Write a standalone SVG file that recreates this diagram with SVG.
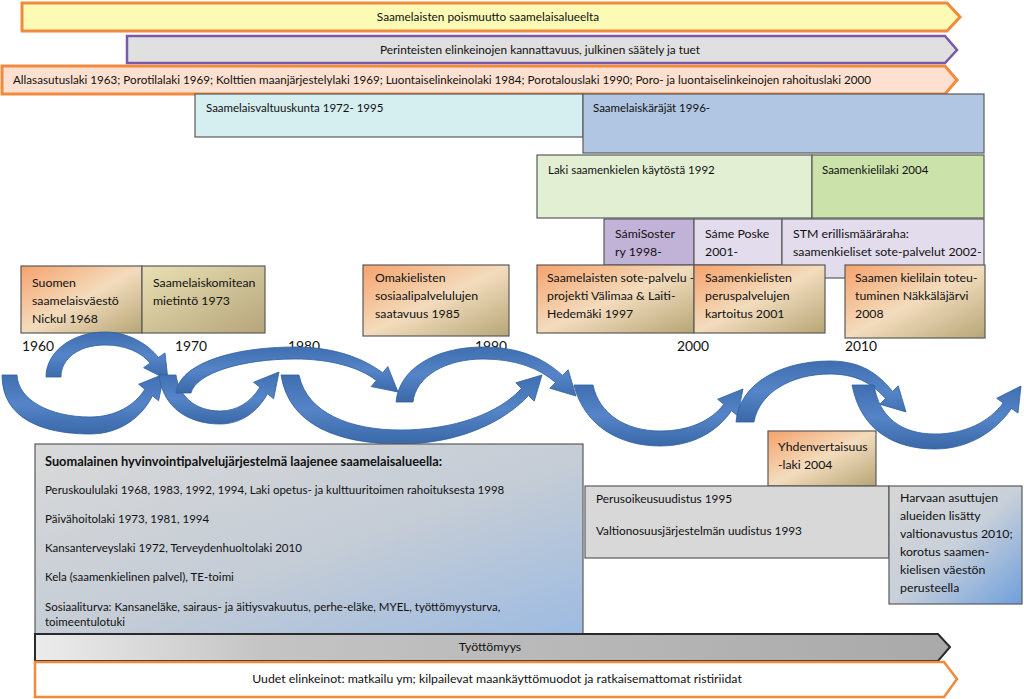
<svg xmlns="http://www.w3.org/2000/svg" width="1024" height="699" viewBox="0 0 1024 699">
<style>
text{font-family:Lato,"Liberation Sans",sans-serif;font-size:12.3px;fill:#111}
.c{text-anchor:middle}
.t{font-size:11.8px}
.s{font-size:11.5px}
.yr{font-size:13.8px}
.b{font-weight:bold;font-size:12.8px}
.box{stroke:#5a5a5a;stroke-width:1.2}
.arr{fill:url(#blue);stroke:#2f5f9e;stroke-width:0.8}
</style>
<defs>
<linearGradient id="org" x1="0" y1="0" x2="1" y2="1">
<stop offset="0" stop-color="#f6a26c"/><stop offset="0.5" stop-color="#f3dcbd"/><stop offset="1" stop-color="#b6a676"/>
</linearGradient>
<linearGradient id="kha" x1="0" y1="0" x2="1" y2="1">
<stop offset="0" stop-color="#eadfb4"/><stop offset="1" stop-color="#b5a67a"/>
</linearGradient>
<linearGradient id="gb" x1="0" y1="0" x2="1" y2="1">
<stop offset="0" stop-color="#d9d9d9"/><stop offset="0.55" stop-color="#c4ccd6"/><stop offset="1" stop-color="#9dbbe2"/>
</linearGradient>
<linearGradient id="gb2" x1="0" y1="0" x2="1" y2="1">
<stop offset="0" stop-color="#d6d6d6"/><stop offset="0.5" stop-color="#c8d0da"/><stop offset="1" stop-color="#6f9fdc"/>
</linearGradient>
<linearGradient id="gry" x1="0" y1="0" x2="1" y2="0">
<stop offset="0" stop-color="#ececec"/><stop offset="0.25" stop-color="#c4c4c4"/><stop offset="1" stop-color="#a9a9a9"/>
</linearGradient>
<linearGradient id="blue" x1="0" y1="0" x2="0" y2="1">
<stop offset="0" stop-color="#3f6fb0"/><stop offset="0.5" stop-color="#5585c8"/><stop offset="1" stop-color="#3a68a8"/>
</linearGradient>
</defs>

<g id="banner-poismuutto">
<path d="M22,3 H947 L960,17 L947,31 H22 Z" fill="#fdfab6" stroke="#f08a3c" stroke-width="3"/>
<text class="c t" x="488" y="21">Saamelaisten poismuutto saamelaisalueelta</text>
</g>
<g id="banner-perinteiset">
<path d="M127,36 H945 L957,50 L945,63 H127 Z" fill="#e0e0e0" stroke="#7a58aa" stroke-width="2.5"/>
<text class="c t" x="540" y="54">Perinteisten elinkeinojen kannattavuus, julkinen säätely ja tuet</text>
</g>
<g id="banner-lait">
<path d="M2,66 H945 L957,80 L945,94 H2 Z" fill="#fde0cf" stroke="#f08a3c" stroke-width="3"/>
<text class="c" x="442" y="84" textLength="858" lengthAdjust="spacingAndGlyphs">Allasasutuslaki 1963; Porotilalaki 1969; Kolttien maanjärjestelylaki 1969; Luontaiselinkeinolaki 1984; Porotalouslaki 1990; Poro- ja luontaiselinkeinojen rahoituslaki 2000</text>
</g>

<g id="valtuuskunta">
<rect class="box" x="195" y="94" width="388" height="43" fill="#d5eef0"/>
<text class="s" x="206" y="112">Saamelaisvaltuuskunta 1972- 1995</text>
</g>
<g id="karajat">
<rect class="box" x="583" y="94" width="401" height="59" fill="#b0c6e2"/>
<text class="s" x="593" y="112">Saamelaiskäräjät 1996-</text>
</g>
<g id="kielilaki1992">
<rect class="box" x="537" y="155" width="275" height="63" fill="#e3efd3"/>
<text class="s" x="548" y="174">Laki saamenkielen käytöstä 1992</text>
</g>
<g id="kielilaki2004">
<rect class="box" x="812" y="155" width="172" height="63" fill="#cbe2aa"/>
<text class="s" x="822" y="174">Saamenkielilaki 2004</text>
</g>
<g id="samisoster">
<rect class="box" x="604" y="219" width="90" height="46" fill="#c1b2d8"/>
<text x="615" y="238">SámiSoster</text>
<text x="615" y="256">ry 1998-</text>
</g>
<g id="sameposke">
<rect class="box" x="694" y="219" width="88" height="46" fill="#e2dcec"/>
<text x="705" y="238">Sáme Poske</text>
<text x="705" y="256">2001-</text>
</g>
<g id="stm">
<rect class="box" x="782" y="219" width="202" height="59" fill="#e2dcec"/>
<text x="793" y="238">STM erillismääräraha:</text>
<text x="793" y="256">saamenkieliset sote-palvelut 2002-</text>
</g>

<g id="nickul">
<rect class="box" x="21" y="266" width="121" height="67" fill="url(#org)"/>
<text x="32" y="287">Suomen</text>
<text x="32" y="305">saamelaisväestö</text>
<text x="32" y="323">Nickul 1968</text>
</g>
<g id="komitea">
<rect class="box" x="142" y="266" width="123" height="67" fill="url(#kha)"/>
<text x="153" y="287">Saamelaiskomitean</text>
<text x="153" y="305">mietintö 1973</text>
</g>
<g id="omakielisten">
<rect class="box" x="363" y="265" width="146" height="71" fill="url(#org)"/>
<text x="375" y="282">Omakielisten</text>
<text x="375" y="300">sosiaalipalvelulujen</text>
<text x="375" y="318">saatavuus 1985</text>
</g>
<g id="sotepalvelu">
<rect class="box" x="537" y="265" width="157" height="68" fill="url(#org)"/>
<text x="547" y="282">Saamelaisten sote-palvelu -</text>
<text x="547" y="300">projekti  Välimaa &amp; Laiti-</text>
<text x="547" y="318">Hedemäki 1997</text>
</g>
<g id="kartoitus">
<rect class="box" x="694" y="265" width="131" height="68" fill="url(#org)"/>
<text x="705" y="282">Saamenkielisten</text>
<text x="705" y="300">peruspalvelujen</text>
<text x="705" y="318">kartoitus 2001</text>
</g>
<g id="nakkalajarvi">
<rect class="box" x="845" y="265" width="140" height="73" fill="url(#org)"/>
<text x="855" y="282">Saamen kielilain toteu-</text>
<text x="855" y="300">tuminen Näkkäläjärvi</text>
<text x="855" y="318">2008</text>
</g>

<g id="years">
<text class="yr" x="22" y="351">1960</text>
<text class="yr" x="175" y="351">1970</text>
<text class="yr" x="288" y="351">1980</text>
<text class="yr" x="475" y="351">1990</text>
<text class="yr" x="677" y="351">2000</text>
<text class="yr" x="845" y="351">2010</text>
</g>

<g id="connectors">
<path class="arr" d="M2,375 C2,420 45,434 90,434 C122,434 143,415 152.5,395.7 L158.6,400.8 L164,374 L138.6,384.2 L144.8,389.3 C135,405 116,417 90,417 C50,417 18,400 17,375 Z"/>
<path class="arr" d="M46,377 C46,352 72,332 105,332 C128,332 148,344 158.4,357.5 L165,352.9 L168,380 L143.6,367.7 L150.2,363.1 C141,352 125,345 105,345 C78,345 61,359 61,377 Z"/>
<path class="arr" d="M159,375 C163,409 190,424 220,424 C242,424 258,411 267.5,393.7 L273.6,398.8 L279,372 L253.6,382.2 L259.8,387.3 C251,402 237,411 220,411 C196,411 179,397 176,375 Z"/>
<path class="arr" d="M176,393 C179,364 232,347 295,347 C334,347 363,358 382.7,372.8 L387.8,366.6 L398,392 L371.2,386.6 L376.3,380.4 C359,367 330,359 295,359 C242,359 196,373 191,393 Z"/>
<path class="arr" d="M281,375 C289,426 340,444 400,444 C460,444 505,421 528.5,395.5 L534.2,401.2 L542,375 L515.8,382.8 L521.5,388.5 C499,413 455,430 400,430 C352,430 307,414 299,375 Z"/>
<path class="arr" d="M396,402 C399,369 435,347 483,347 C520,347 545,359 562.5,375.5 L568.2,369.8 L576,396 L549.8,388.2 L555.5,382.5 C539,368 515,359 483,359 C446,359 416,376 413,402 Z"/>
<path class="arr" d="M574,385 C584,426 620,446 660,446 C696,446 719,429 731.5,410.7 L737.6,415.8 L743,389 L717.6,399.2 L723.8,404.3 C711,421 689,431 660,431 C626,431 599,414 593,385 Z"/>
<path class="arr" d="M736,422 C739,384 780,361 830,361 C860,361 878,373 892.5,391.5 L898.2,385.8 L906,412 L879.8,404.2 L885.5,398.5 C871,382 854,374 830,374 C791,374 759,393 754,422 Z"/>
<path class="arr" d="M852,385 C861,431 895,449 935,449 C969,449 996,431 1011.4,408.5 L1018,413.1 L1021,386 L996.6,398.3 L1003.2,402.9 C989,422 965,434 935,434 C901,434 879,417 874,385 Z"/>
</g>

<g id="hyvinvointi">
<rect class="box" x="35" y="444" width="548" height="190" fill="url(#gb)"/>
<text class="b" x="45" y="466">Suomalainen hyvinvointipalvelujärjestelmä laajenee saamelaisalueella:</text>
<text class="s" x="45" y="494">Peruskoululaki 1968, 1983, 1992, 1994, Laki opetus- ja kulttuuritoimen rahoituksesta 1998</text>
<text class="s" x="45" y="523">Päivähoitolaki 1973, 1981, 1994</text>
<text class="s" x="45" y="552">Kansanterveyslaki 1972, Terveydenhuoltolaki 2010</text>
<text class="s" x="45" y="581">Kela (saamenkielinen palvel), TE-toimi</text>
<text class="s" x="45" y="611">Sosiaaliturva: Kansaneläke, sairaus- ja äitiysvakuutus, perhe-eläke, MYEL, työttömyysturva,</text>
<text class="s" x="45" y="626">toimeentulotuki</text>
</g>
<g id="yhdenvertaisuus">
<rect class="box" x="768" y="431" width="108" height="55" fill="url(#org)"/>
<text x="778" y="451">Yhdenvertaisuus</text>
<text x="778" y="469">-laki 2004</text>
</g>
<g id="perusoikeus">
<rect class="box" x="585" y="486" width="304" height="72" fill="#d8d8d8"/>
<text class="t" x="596" y="503">Perusoikeusuudistus 1995</text>
<text class="t" x="596" y="535">Valtionosuusjärjestelmän uudistus 1993</text>
</g>
<g id="harvaan">
<rect class="box" x="889" y="486" width="133" height="118" fill="url(#gb2)"/>
<text x="900" y="502">Harvaan asuttujen</text>
<text x="900" y="520">alueiden lisätty</text>
<text x="900" y="538">valtionavustus 2010;</text>
<text x="900" y="556">korotus saamen-</text>
<text x="900" y="574">kielisen väestön</text>
<text x="900" y="592">perusteella</text>
</g>
<g id="tyottomyys">
<path d="M35,634 H938 L950,647 L938,661 H35 Z" fill="url(#gry)" stroke="#2a2a2a" stroke-width="2"/>
<text class="c" x="490" y="651">Työttömyys</text>
</g>
<g id="uudet">
<path d="M35,662 H944 L957,679 L944,697 H35 Z" fill="#ffffff" stroke="#f08a3c" stroke-width="2.5"/>
<text class="c" x="497" y="683">Uudet elinkeinot: matkailu ym; kilpailevat maankäyttömuodot ja ratkaisemattomat ristiriidat</text>
</g>
</svg>
